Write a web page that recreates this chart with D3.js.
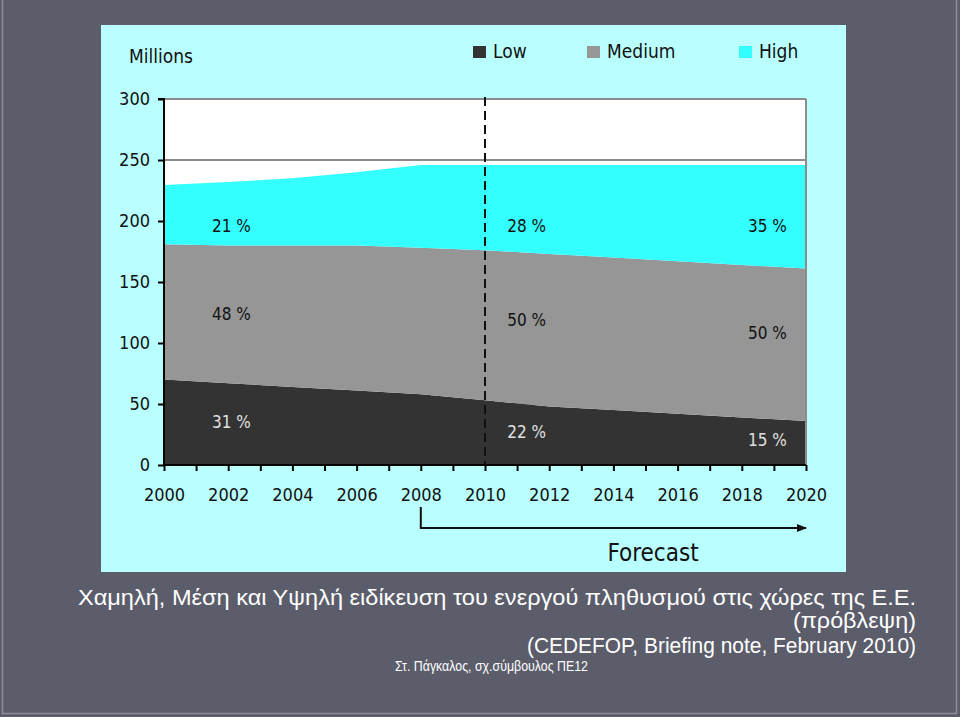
<!DOCTYPE html>
<html>
<head>
<meta charset="utf-8">
<script src="https://cdn.jsdelivr.net/npm/d3@7"></script>
<style>
  html, body { margin: 0; padding: 0; background: #5c5d6b; }
  svg { display: block; }
</style>
</head>
<body>
<svg id="chart" width="960" height="717"></svg>
<script>
// ---------- DATA ----------
const years = [2000, 2002, 2004, 2006, 2008, 2010, 2012, 2014, 2016, 2018, 2020];
const lowValues = [70, 67, 64, 61, 58, 53, 48, 45, 42, 39, 36];
const mediumValues = [111, 113, 116, 119, 120, 123, 125, 125, 125, 125, 125];
const highValues = [48.5, 52, 55, 60, 68, 70, 73, 76, 79, 82, 85];
const seriesNames = ["Low", "Medium", "High"];
const yTicks = [0, 50, 100, 150, 200, 250, 300];
const xTickYears = d3.range(2000, 2021, 1);
const xLabelYears = [2000, 2002, 2004, 2006, 2008, 2010, 2012, 2014, 2016, 2018, 2020];
const forecastStart = 2010;
const forecastArrowFrom = 2008;
// share annotations: year position, series, value position, text
const pctYears = [2002.1, 2002.1, 2002.1, 2011.3, 2011.3, 2011.3, 2018.8, 2018.8, 2018.8];
const pctSeries = ["High", "Medium", "Low", "High", "Medium", "Low", "High", "Medium", "Low"];
const pctValues = [196, 124, 35, 196, 119, 27, 196, 108, 20.5];
const pctTexts = ["21 %", "48 %", "31 %", "28 %", "50 %", "22 %", "35 %", "50 %", "15 %"];
const titleLines = [
  "Χαμηλή, Μέση και Υψηλή ειδίκευση του ενεργού πληθυσμού στις χώρες της Ε.Ε.",
  "(πρόβλεψη)",
  "(CEDEFOP, Briefing note, February 2010)"
];
const authorText = "Στ. Πάγκαλος, σχ.σύμβουλος ΠΕ12";

// ---------- STYLES ----------
const colors = { Low: "#333333", Medium: "#969696", High: "#33ffff" };
const labelColors = { Low: "#e0e0e0", Medium: "#111111", High: "#111111" };
const chartFont = "'DejaVu Sans Condensed', 'DejaVu Sans', sans-serif";

const svg = d3.select("#chart");

// slide background + frame
svg.append("rect").attr("x", 0).attr("y", 0).attr("width", 960).attr("height", 717).attr("fill", "#5c5d6b");
svg.append("path").attr("d", "M2.5,0 V713.5 H956.5 V0").attr("fill", "none").attr("stroke", "#8d8e99").attr("stroke-width", 1.5);

// chart panel
svg.append("rect").attr("x", 101).attr("y", 25).attr("width", 745).attr("height", 547).attr("fill", "#b9ffff");

const x = d3.scaleLinear().domain([2000, 2020]).range([164, 806]);
const y = d3.scaleLinear().domain([0, 300]).range([465, 99]);

// plot background
svg.append("rect").attr("x", x(2000)).attr("y", y(300)).attr("width", x(2020) - x(2000)).attr("height", y(0) - y(300)).attr("fill", "#ffffff");

// gridlines
svg.append("g").selectAll("line").data(yTicks.filter(d => d > 0)).join("line")
  .attr("x1", x(2000)).attr("x2", x(2020)).attr("y1", d => y(d)).attr("y2", d => y(d))
  .attr("stroke", "#8c8c8c").attr("stroke-width", 2);

// stacked areas
const table = years.map((yr, i) => ({ year: yr, Low: lowValues[i], Medium: mediumValues[i], High: highValues[i] }));
const stack = d3.stack().keys(seriesNames)(table);
const area = d3.area().x(d => x(d.data.year)).y0(d => y(d[0])).y1(d => y(d[1]));
svg.append("g").selectAll("path").data(stack).join("path")
  .attr("d", area).attr("fill", d => colors[d.key]);

// right border
svg.append("line").attr("x1", x(2020)).attr("x2", x(2020)).attr("y1", y(300)).attr("y2", y(0))
  .attr("stroke", "#8c8c8c").attr("stroke-width", 2);

// forecast dashed line
svg.append("line").attr("x1", x(forecastStart)).attr("x2", x(forecastStart)).attr("y1", y(300) - 2).attr("y2", y(0))
  .attr("stroke", "#111").attr("stroke-width", 2).attr("stroke-dasharray", "9,5");

// percentage labels
svg.append("g").selectAll("text").data(pctTexts).join("text")
  .attr("x", (d, i) => x(pctYears[i])).attr("y", (d, i) => y(pctValues[i]))
  .attr("dy", "0.35em").attr("text-anchor", "middle")
  .attr("font-family", chartFont).attr("font-size", 17)
  .attr("fill", (d, i) => labelColors[pctSeries[i]])
  .text(d => d);

// axes
const yAxis = d3.axisLeft(y).tickValues(yTicks).tickSize(6).tickPadding(8).tickFormat(d3.format("d"));
const gy = svg.append("g").attr("transform", `translate(${x(2000)},0)`).call(yAxis);
gy.select(".domain").attr("stroke", "#000").attr("stroke-width", 2).attr("d", `M-6,${y(300)}H0V${y(0)}`);
gy.selectAll(".tick line").attr("stroke", "#000").attr("stroke-width", 2);
gy.selectAll(".tick text").attr("font-family", chartFont).attr("font-size", 18).attr("fill", "#111");

const xAxis = d3.axisBottom(x).tickValues(xTickYears).tickSize(6).tickPadding(17)
  .tickFormat(d => xLabelYears.includes(d) ? String(d) : "");
const gx = svg.append("g").attr("transform", `translate(0,${y(0)})`).call(xAxis);
gx.select(".domain").attr("stroke", "#000").attr("stroke-width", 2).attr("d", `M${x(2000)},0H${x(2020)}`);
gx.selectAll(".tick line").attr("stroke", "#000").attr("stroke-width", 2);
gx.selectAll(".tick text").attr("font-family", chartFont).attr("font-size", 18).attr("fill", "#111");

// forecast arrow
const arrowY = 528;
svg.append("defs").append("marker").attr("id", "arrow").attr("viewBox", "0 0 10 10")
  .attr("refX", 9).attr("refY", 5).attr("markerWidth", 5).attr("markerHeight", 5).attr("orient", "auto")
  .append("path").attr("d", "M0,1 L10,5 L0,9 z").attr("fill", "#111");
svg.append("path")
  .attr("d", `M${x(forecastArrowFrom)},${y(0) + 42}V${arrowY}H${x(2020)}`)
  .attr("fill", "none").attr("stroke", "#111").attr("stroke-width", 2).attr("marker-end", "url(#arrow)");
svg.append("text").attr("x", 653).attr("y", 561).attr("text-anchor", "middle")
  .attr("font-family", chartFont).attr("font-size", 24).attr("fill", "#111").text("Forecast");

// Millions + legend
svg.append("text").attr("x", 129).attr("y", 63).attr("font-family", chartFont).attr("font-size", 19)
  .attr("fill", "#111").text("Millions");
const legendX = [473, 587, 739];
const lg = svg.append("g").selectAll("g").data(seriesNames).join("g")
  .attr("transform", (d, i) => `translate(${legendX[i]},46)`);
lg.append("rect").attr("width", 13).attr("height", 12).attr("fill", d => colors[d]);
lg.append("text").attr("x", 20).attr("y", 12).attr("font-family", chartFont).attr("font-size", 19)
  .attr("fill", "#111").text(d => d);

// bottom titles
const titleFont = "'Liberation Sans Narrow', 'Liberation Sans', Arial, sans-serif";
const tl = [
  { y: 605, size: 22, width: 838 },
  { y: 628, size: 22, width: 123 },
  { y: 653, size: 22, width: 389 }
];
svg.append("g").selectAll("text").data(titleLines).join("text")
  .attr("x", 916).attr("y", (d, i) => tl[i].y).attr("text-anchor", "end")
  .attr("font-family", titleFont).attr("font-size", (d, i) => tl[i].size)
  .attr("fill", "#ffffff")
  .attr("textLength", (d, i) => tl[i].width).attr("lengthAdjust", "spacingAndGlyphs")
  .text(d => d);
svg.append("text").attr("x", 395).attr("y", 671)
  .attr("font-family", titleFont).attr("font-size", 14).attr("fill", "#ffffff")
  .attr("textLength", 193).attr("lengthAdjust", "spacingAndGlyphs")
  .text(authorText);
</script>
</body>
</html>
